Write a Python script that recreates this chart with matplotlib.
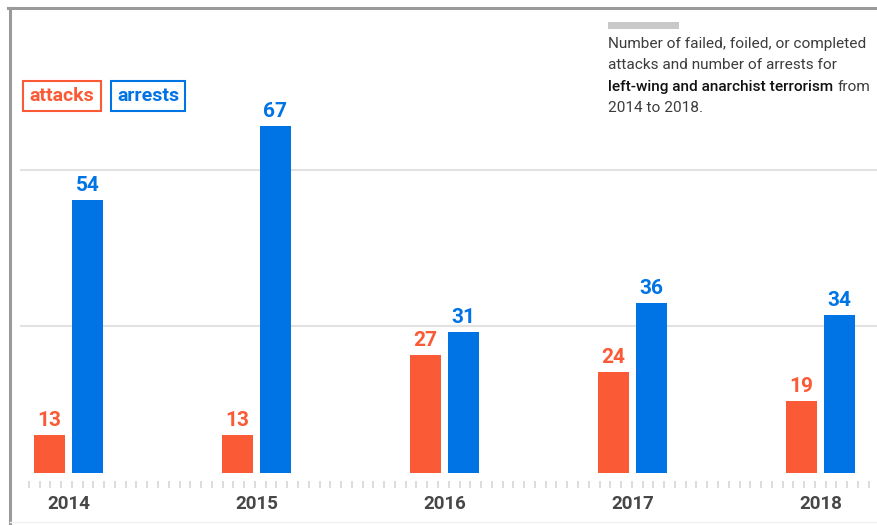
import numpy as np
import matplotlib
matplotlib.use('Agg')
import matplotlib.pyplot as plt
from matplotlib.lines import Line2D
from matplotlib.patches import Rectangle
import matplotlib.ticker as ticker

plt.rcParams['font.family'] = ['Roboto', 'DejaVu Sans']

years = ['2014', '2015', '2016', '2017', '2018']
attacks = [13, 13, 27, 24, 19]
arrests = [54, 67, 31, 36, 34]

ORANGE = '#fb5a36'
BLUE = '#0074e4'
GRID = '#e2e2e2'

W, H = 878, 525
fig = plt.figure(figsize=(W / 100, H / 100), dpi=100)
fig.patch.set_facecolor('white')


def px_box(x0, y0, x1, y1):
    # pixel box (top-left origin) -> figure fraction rect
    return [x0 / W, 1 - y1 / H, (x1 - x0) / W, (y1 - y0) / H]


ax = fig.add_axes(px_box(20, 8, 878, 473))
# must come before tick styling: moving the spine resets the ticks
ax.spines['bottom'].set_position(('outward', 6))

x = np.arange(len(years))
bw = 0.165
off = 0.101
ax.bar(x - off, attacks, width=bw, color=ORANGE, zorder=3)
ax.bar(x + off, arrests, width=bw, color=BLUE, zorder=3)

for xi, a, r in zip(x, attacks, arrests):
    ax.annotate(str(a), (xi - off, a), xytext=(0, 3.5), textcoords='offset points',
                ha='center', va='bottom', fontsize=15, fontweight='bold', color=ORANGE)
    ax.annotate(str(r), (xi + off, r), xytext=(0, 3.5), textcoords='offset points',
                ha='center', va='bottom', fontsize=15, fontweight='bold', color=BLUE)

# baseline sits a little above zero in the original graphic
ax.set_ylim(6.33, 87.6)
ax.set_xlim(-0.258, 4.306)
ax.set_yticks([32.0, 59.3])
ax.yaxis.grid(True, color=GRID, linewidth=1.5, zorder=0)
ax.tick_params(axis='y', length=0, labelleft=False)

ax.set_xticks(x)
ax.set_xticklabels(years, fontsize=13.5, fontweight='bold', color='#474747')
ax.xaxis.set_minor_locator(ticker.FixedLocator(np.arange(-0.2686, 4.31, 10.77 / 188)))
ax.tick_params(axis='x', which='major', length=0, pad=10)
ax.tick_params(axis='x', which='minor', length=5, width=1.3, color='#dadada', direction='out')
for s in ax.spines.values():
    s.set_visible(False)
ax.set_facecolor('none')

# frame lines at top and left
fig.add_artist(Line2D([8 / W, 1], [1 - 8 / H, 1 - 8 / H], color='#9a9a9a', linewidth=2.2))
fig.add_artist(Line2D([10 / W, 10 / W], [0, 1 - 8 / H], color='#9a9a9a', linewidth=2.2))
fig.add_artist(Line2D([10 / W, 1], [1 - 522 / H, 1 - 522 / H], color='#f2f2f2', linewidth=1))

# legend boxes
fig.text(62 / W, 1 - 96 / H, 'attacks', ha='center', va='center', fontsize=14,
         fontweight='bold', color=ORANGE,
         bbox=dict(boxstyle='square,pad=0.33', fc='white', ec=ORANGE, lw=1.5))
fig.text(148 / W, 1 - 96 / H, 'arrests', ha='center', va='center', fontsize=14,
         fontweight='bold', color=BLUE,
         bbox=dict(boxstyle='square,pad=0.33', fc='white', ec=BLUE, lw=1.5))

# note in the top right
fig.add_artist(Rectangle((608 / W, 1 - 29 / H), 71 / W, 7 / H, transform=fig.transFigure,
                         color='#c8c8c8', lw=0))
tx = 608 / W
fs = 11.1
txt_color = '#3c3c3c'
fig.text(tx, 1 - 44 / H, 'Number of failed, foiled, or completed', fontsize=fs,
         color=txt_color, va='center')
fig.text(tx, 1 - 65 / H, 'attacks and number of arrests for', fontsize=fs,
         color=txt_color, va='center')
bold = fig.text(tx, 1 - 87 / H, 'left-wing and anarchist terrorism', fontsize=fs,
                color='#111111', fontweight='medium', va='center')
fig.text(tx, 1 - 108 / H, '2014 to 2018.', fontsize=fs, color=txt_color, va='center')
fig.canvas.draw()
bb = bold.get_window_extent()
fig.text(bb.x1 / W + 4 / W, 1 - 87 / H, 'from', fontsize=fs, color=txt_color, va='center')

fig.savefig('out.png', dpi=100, facecolor='white')
